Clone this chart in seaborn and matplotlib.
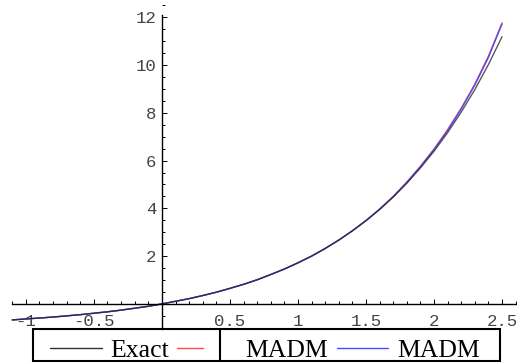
import pandas as pd
import matplotlib.pyplot as plt
import seaborn as sns
from matplotlib.lines import Line2D
from matplotlib.patches import Rectangle
from matplotlib.ticker import MultipleLocator, FixedLocator

# values
x_vals = [-1.1, -1.0, -0.9, -0.8, -0.7, -0.6, -0.5, -0.4, -0.3, -0.2, -0.1,
          0.0, 0.1, 0.2, 0.3, 0.4, 0.5, 0.6, 0.7, 0.8, 0.9, 1.0, 1.1, 1.2,
          1.3, 1.4, 1.5, 1.6, 1.7, 1.8, 1.9, 2.0, 2.1, 2.2, 2.3, 2.4, 2.5]
exact = [-0.67, -0.63, -0.59, -0.55, -0.50, -0.45, -0.39, -0.33, -0.26, -0.18, -0.10,
         0.0, 0.11, 0.22, 0.35, 0.49, 0.65, 0.82, 1.01, 1.23, 1.46, 1.72, 2.00, 2.32,
         2.67, 3.06, 3.48, 3.95, 4.47, 5.05, 5.69, 6.39, 7.17, 8.03, 8.97, 10.02, 11.18]
madm_red = [-0.67, -0.63, -0.59, -0.55, -0.50, -0.45, -0.39, -0.33, -0.26, -0.18, -0.10,
            0.0, 0.11, 0.22, 0.35, 0.49, 0.65, 0.82, 1.01, 1.23, 1.46, 1.72, 2.00, 2.32,
            2.67, 3.06, 3.49, 3.97, 4.50, 5.10, 5.76, 6.48, 7.29, 8.19, 9.20, 10.37, 11.76]
madm_blue = [-0.67, -0.63, -0.59, -0.55, -0.50, -0.45, -0.39, -0.33, -0.26, -0.18, -0.10,
             0.0, 0.11, 0.22, 0.35, 0.49, 0.65, 0.82, 1.01, 1.23, 1.46, 1.72, 2.00, 2.32,
             2.67, 3.06, 3.49, 3.96, 4.49, 5.08, 5.74, 6.46, 7.26, 8.16, 9.16, 10.32, 11.72]

x_ticks = [-1, -0.5, 0.5, 1, 1.5, 2, 2.5]
x_labels = ["-1", "-0.5", "0.5", "1", "1.5", "2", "2.5"]
y_ticks = [2, 4, 6, 8, 10, 12]
y_labels = ["2", "4", "6", "8", "10", "12"]

df = pd.DataFrame({"x": x_vals, "exact": exact, "red": madm_red, "blue": madm_blue})

sns.set_style("white")
fig = plt.figure(figsize=(5.17, 3.62), dpi=100)
ax = fig.add_axes([0, 33 / 362, 1, 329 / 362])

sns.lineplot(data=df, x="x", y="red", color="#ff4a4a", lw=1.0, ax=ax)
sns.lineplot(data=df, x="x", y="blue", color="#4a4aff", lw=1.0, ax=ax)
sns.lineplot(data=df, x="x", y="exact", color="#202020", lw=1.0, alpha=0.75, ax=ax)

ax.set_xlim(-1.19, 2.61)
ax.set_ylim(-1.05, 12.72)
ax.set_xlabel("")
ax.set_ylabel("")

for s in ["top", "right"]:
    ax.spines[s].set_visible(False)
ax.spines["left"].set_position(("data", 0))
ax.spines["bottom"].set_position(("data", 0))
ax.spines["left"].set_bounds(-1.05, 12.1)
ax.spines["bottom"].set_bounds(-1.1, 2.61)
for s in ["left", "bottom"]:
    ax.spines[s].set_color("black")
    ax.spines[s].set_linewidth(1.0)

ax.xaxis.set_major_locator(FixedLocator(x_ticks))
ax.set_xticklabels(x_labels)
ax.yaxis.set_major_locator(FixedLocator(y_ticks))
ax.set_yticklabels(y_labels)
ax.xaxis.set_minor_locator(MultipleLocator(0.1))
ax.yaxis.set_minor_locator(MultipleLocator(0.5))
ax.tick_params(which="both", direction="in", color="black", width=0.7,
               bottom=True, left=True, top=False, right=False)
ax.tick_params(which="major", length=3.5, labelsize=12.5, labelcolor="#444444")
ax.tick_params(which="minor", length=2)
ax.tick_params(axis="x", which="major", pad=7)
ax.tick_params(axis="y", which="major", pad=4)
for lab in ax.get_xticklabels() + ax.get_yticklabels():
    lab.set_family("Liberation Mono")

# legend table at the bottom
def fx(px):
    return px / 517

def fy(py):
    return 1 - py / 362

fig.patches.append(Rectangle((fx(33), fy(361)), fx(500) - fx(33), fy(329) - fy(361),
                             transform=fig.transFigure, fill=False, lw=1.5, edgecolor="black"))
fig.lines.append(Line2D([fx(220), fx(220)], [fy(361), fy(329)], transform=fig.transFigure,
                        color="black", lw=1.5))
fig.lines.append(Line2D([fx(50), fx(102)], [fy(348), fy(348)], transform=fig.transFigure,
                        color="#303030", lw=1.0))
fig.lines.append(Line2D([fx(177), fx(203)], [fy(348), fy(348)], transform=fig.transFigure,
                        color="#ff4a4a", lw=1.0))
fig.lines.append(Line2D([fx(337), fx(388)], [fy(348), fy(348)], transform=fig.transFigure,
                        color="#4a4aff", lw=1.0))
for txt, px in [("Exact", 110), ("MADM", 245), ("MADM", 397)]:
    fig.text(fx(px), fy(357), txt, family="Liberation Serif", fontsize=18.5,
             ha="left", va="baseline", color="black")

plt.savefig("out.png", dpi=100)
plt.close()
